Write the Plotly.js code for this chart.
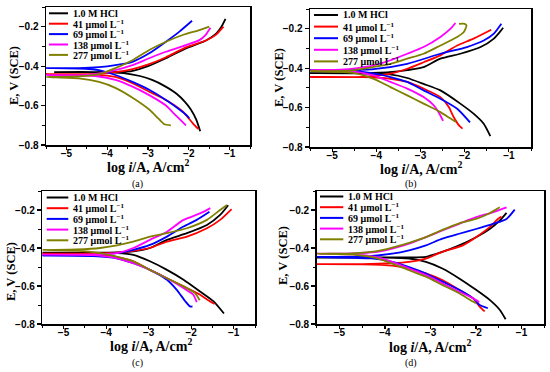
<!DOCTYPE html>
<html><head><meta charset="utf-8">
<script src="https://cdn.plot.ly/plotly-3.0.1.min.js"></script>
<style>html,body{margin:0;padding:0;background:#fff;}#chart{width:550px;height:372px;}</style>
</head><body><div id="chart"></div>
<script>
// ---------- labels ----------
const seriesNames = ['1.0 M HCl', '41 μmol L<sup>−1</sup>', '69 μmol L<sup>−1</sup>', '138 μmol L<sup>−1</sup>', '277 μmol L<sup>−1</sup>'];
const panelLabels = ['(a)', '(b)', '(c)', '(d)'];
const xTitle = 'log <i>i</i>/A, A/cm<sup>2</sup>';
const yTitle = 'E, V (SCE)';

// ---------- panel (a) ----------
const a_hcl_logi = [-1.72,-1.82,-1.95,-2.1,-2.3,-2.6,-2.9,-3.2,-3.6,-4.3,-5.3,-4.3,-3.4,-3.0,-2.56,-2.07,-1.58,-1.33,-1.2,-1.1];
const a_hcl_E    = [-0.73,-0.67,-0.62,-0.58,-0.54,-0.50,-0.47,-0.45,-0.435,-0.43,-0.43,-0.43,-0.425,-0.40,-0.36,-0.31,-0.27,-0.235,-0.20,-0.16];
const a_41_logi  = [-1.76,-1.9,-2.15,-2.56,-2.97,-3.38,-3.8,-4.3,-5.5,-4.5,-3.8,-3.38,-2.97,-2.56,-2.07,-1.58,-1.33,-1.15];
const a_41_E     = [-0.72,-0.69,-0.63,-0.572,-0.53,-0.487,-0.455,-0.443,-0.44,-0.44,-0.43,-0.415,-0.39,-0.355,-0.305,-0.27,-0.24,-0.20];
const a_69_logi  = [-1.99,-2.05,-2.23,-2.56,-2.97,-3.38,-3.8,-4.2,-4.7,-5.5,-4.7,-4.2,-3.8,-3.38,-2.97,-2.56,-2.23,-1.92];
const a_69_E     = [-0.665,-0.65,-0.62,-0.572,-0.52,-0.48,-0.445,-0.42,-0.412,-0.41,-0.41,-0.405,-0.395,-0.378,-0.335,-0.276,-0.225,-0.17];
const a_138_logi = [-2.07,-2.32,-2.56,-2.97,-3.38,-3.8,-4.3,-5.5,-4.5,-3.8,-3.38,-2.97,-2.56,-2.07,-1.74,-1.58,-1.5,-1.47];
const a_138_E    = [-0.70,-0.65,-0.60,-0.547,-0.504,-0.47,-0.45,-0.445,-0.445,-0.42,-0.395,-0.36,-0.327,-0.293,-0.268,-0.24,-0.215,-0.205];
const a_277_logi = [-2.44,-2.6,-2.75,-2.97,-3.38,-3.8,-4.2,-4.7,-5.5,-4.7,-4.2,-3.8,-3.38,-2.97,-2.56,-2.15,-1.74,-1.5];
const a_277_E    = [-0.70,-0.695,-0.665,-0.62,-0.56,-0.51,-0.48,-0.462,-0.455,-0.452,-0.44,-0.41,-0.37,-0.318,-0.276,-0.242,-0.217,-0.20];

// ---------- panel (b) ----------
const b_hcl_logi = [-1.42,-1.57,-1.8,-2.1,-2.55,-2.93,-3.3,-3.7,-4.5,-5.5,-4.5,-3.7,-3.3,-2.93,-2.55,-2.1,-1.64,-1.34,-1.2,-1.13];
const b_hcl_E    = [-0.745,-0.682,-0.631,-0.58,-0.513,-0.48,-0.45,-0.432,-0.426,-0.425,-0.425,-0.42,-0.41,-0.395,-0.352,-0.327,-0.293,-0.25,-0.215,-0.195];
const b_41_logi  = [-2.05,-2.13,-2.25,-2.36,-2.55,-2.93,-3.3,-3.68,-4.3,-5.5,-4.3,-3.68,-3.3,-2.93,-2.55,-2.17,-1.8,-1.4];
const b_41_E     = [-0.707,-0.69,-0.648,-0.597,-0.547,-0.504,-0.47,-0.454,-0.446,-0.445,-0.444,-0.428,-0.403,-0.37,-0.335,-0.285,-0.25,-0.205];
const b_69_logi  = [-1.88,-2.17,-2.55,-2.93,-3.3,-3.68,-4.1,-4.7,-5.5,-4.7,-4.06,-3.3,-2.55,-1.95,-1.57,-1.34,-1.17];
const b_69_E     = [-0.675,-0.606,-0.555,-0.513,-0.47,-0.445,-0.425,-0.413,-0.41,-0.41,-0.405,-0.378,-0.327,-0.293,-0.26,-0.225,-0.175];
const b_138_logi = [-2.49,-2.55,-2.7,-2.93,-3.3,-3.68,-4.06,-4.6,-5.5,-4.8,-4.43,-4.06,-3.68,-3.3,-2.93,-2.55,-2.32,-2.21];
const b_138_E    = [-0.668,-0.64,-0.589,-0.547,-0.504,-0.47,-0.437,-0.415,-0.41,-0.408,-0.40,-0.386,-0.36,-0.327,-0.293,-0.242,-0.20,-0.171];
const b_277_logi = [-2.2,-2.32,-2.55,-2.93,-3.3,-3.68,-4.06,-4.5,-5.5,-4.6,-4.06,-3.68,-3.3,-2.93,-2.55,-2.17,-2.02,-1.96,-2.0,-2.13];
const b_277_E    = [-0.673,-0.656,-0.623,-0.58,-0.538,-0.496,-0.454,-0.425,-0.415,-0.413,-0.394,-0.378,-0.352,-0.327,-0.285,-0.242,-0.217,-0.183,-0.175,-0.175];

// ---------- panel (c) ----------
const c_hcl_logi = [-1.23,-1.48,-1.79,-2.18,-2.57,-2.97,-3.36,-3.75,-4.5,-5.5,-4.5,-3.75,-3.36,-2.97,-2.57,-2.1,-1.63,-1.32,-1.13];
const c_hcl_E    = [-0.745,-0.68,-0.629,-0.567,-0.515,-0.47,-0.436,-0.427,-0.425,-0.425,-0.425,-0.423,-0.418,-0.40,-0.357,-0.322,-0.279,-0.226,-0.175];
const c_41_logi  = [-1.45,-1.6,-1.79,-2.18,-2.57,-2.97,-3.36,-3.9,-4.6,-5.5,-4.6,-3.75,-3.36,-2.97,-2.57,-2.1,-1.63,-1.32,-1.05];
const c_41_E     = [-0.695,-0.675,-0.646,-0.602,-0.559,-0.515,-0.47,-0.44,-0.432,-0.43,-0.43,-0.425,-0.415,-0.40,-0.366,-0.34,-0.296,-0.252,-0.195];
const c_69_logi  = [-1.97,-2.03,-2.14,-2.34,-2.57,-2.97,-3.36,-3.75,-4.3,-5.5,-4.5,-3.75,-3.36,-2.97,-2.57,-2.18,-1.87,-1.57];
const c_69_E     = [-0.708,-0.707,-0.68,-0.62,-0.567,-0.515,-0.48,-0.454,-0.443,-0.44,-0.44,-0.427,-0.41,-0.384,-0.34,-0.287,-0.252,-0.209];
const c_138_logi = [-1.87,-1.95,-2.18,-2.57,-2.97,-3.36,-3.75,-4.3,-5.5,-4.5,-3.75,-3.36,-2.97,-2.57,-2.18,-1.79,-1.55];
const c_138_E    = [-0.685,-0.646,-0.611,-0.559,-0.515,-0.48,-0.454,-0.438,-0.435,-0.435,-0.427,-0.40,-0.357,-0.314,-0.252,-0.218,-0.19];
const c_277_logi = [-1.8,-1.91,-2.18,-2.57,-2.97,-3.36,-3.75,-4.14,-4.7,-5.5,-4.7,-4.14,-3.36,-2.97,-2.57,-2.1,-1.63,-1.32,-1.16];
const c_277_E    = [-0.675,-0.637,-0.602,-0.559,-0.515,-0.47,-0.445,-0.427,-0.414,-0.41,-0.408,-0.40,-0.366,-0.34,-0.322,-0.296,-0.252,-0.20,-0.174];

// ---------- panel (d) ----------
const d_hcl_logi = [-1.35,-1.48,-1.7,-2.0,-2.37,-2.74,-3.1,-3.47,-4.0,-5.5,-4.0,-3.47,-3.1,-2.74,-2.37,-2.0,-1.7,-1.48,-1.33];
const d_hcl_E    = [-0.775,-0.725,-0.673,-0.62,-0.56,-0.508,-0.473,-0.456,-0.451,-0.45,-0.45,-0.45,-0.447,-0.42,-0.386,-0.343,-0.30,-0.256,-0.215];
const d_41_logi  = [-1.81,-1.92,-2.07,-2.37,-2.74,-3.1,-3.47,-3.84,-4.5,-5.5,-4.5,-3.84,-3.47,-3.1,-2.74,-2.29,-2.0,-1.7,-1.52,-1.44];
const d_41_E     = [-0.734,-0.708,-0.664,-0.62,-0.569,-0.534,-0.508,-0.493,-0.486,-0.485,-0.485,-0.48,-0.473,-0.456,-0.42,-0.386,-0.343,-0.29,-0.247,-0.235];
const d_69_logi  = [-1.74,-1.92,-2.07,-2.37,-2.74,-3.1,-3.47,-3.84,-4.3,-5.5,-4.5,-3.84,-3.47,-3.1,-2.74,-2.37,-2.0,-1.63,-1.33,-1.15];
const d_69_E     = [-0.717,-0.70,-0.664,-0.62,-0.577,-0.534,-0.50,-0.473,-0.455,-0.447,-0.446,-0.43,-0.412,-0.386,-0.351,-0.325,-0.30,-0.273,-0.247,-0.198];
const d_138_logi = [-1.93,-2.07,-2.37,-2.74,-3.1,-3.47,-3.84,-4.21,-4.7,-5.5,-4.7,-4.21,-3.84,-3.47,-3.1,-2.74,-2.37,-2.0,-1.63,-1.33];
const d_138_E    = [-0.685,-0.664,-0.63,-0.586,-0.543,-0.508,-0.473,-0.447,-0.434,-0.43,-0.428,-0.421,-0.403,-0.377,-0.343,-0.308,-0.273,-0.238,-0.212,-0.186];
const d_277_logi = [-2.0,-2.07,-2.37,-2.74,-3.1,-3.47,-3.84,-4.21,-4.7,-5.5,-4.7,-4.21,-3.84,-3.47,-3.1,-2.74,-2.37,-2.0,-1.7,-1.48];
const d_277_E    = [-0.69,-0.682,-0.638,-0.595,-0.551,-0.517,-0.482,-0.452,-0.435,-0.43,-0.428,-0.418,-0.398,-0.373,-0.343,-0.305,-0.27,-0.247,-0.217,-0.186];

// ---------- assembly ----------
const W = 550, H = 372;
const px = v => v / W, py = v => 1 - v / H;
const colors = ['#000000', '#ff0000', '#0000ff', '#ff00ff', '#808000'];

const panels = [
  {xs:[a_hcl_logi,a_41_logi,a_69_logi,a_138_logi,a_277_logi], ys:[a_hcl_E,a_41_E,a_69_E,a_138_E,a_277_E],
   box:[46,250,7,145], leg:{x0:49,x1:68,tx:71,y0:13.3,dy:10.4}, xt:[148,166.5], yt:[14,76], lab:[137,184]},
  {xs:[b_hcl_logi,b_41_logi,b_69_logi,b_138_logi,b_277_logi], ys:[b_hcl_E,b_41_E,b_69_E,b_138_E,b_277_E],
   box:[310,531,9,147], leg:{x0:314,x1:338,tx:341,y0:15,dy:11.6}, xt:[421,168.5], yt:[279,78], lab:[411,184]},
  {xs:[c_hcl_logi,c_41_logi,c_69_logi,c_138_logi,c_277_logi], ys:[c_hcl_E,c_41_E,c_69_E,c_138_E,c_277_E],
   box:[42.3,255,191,324], leg:{x0:46.7,x1:68.3,tx:71,y0:197.5,dy:10.7}, xt:[151,345], yt:[11,272], lab:[137,363]},
  {xs:[d_hcl_logi,d_41_logi,d_69_logi,d_138_logi,d_277_logi], ys:[d_hcl_E,d_41_E,d_69_E,d_138_E,d_277_E],
   box:[316.7,544.3,191,324], leg:{x0:320,x1:343.3,tx:346,y0:196.5,dy:10.7}, xt:[430,345.5], yt:[283,256], lab:[411,363]}
];

const traces = [], shapes = [], annotations = [];
const layout = {
  width: W, height: H, margin: {l:0, r:0, t:0, b:0},
  paper_bgcolor: '#fff', plot_bgcolor: '#fff', showlegend: false
};
const tickFont = {family: 'Liberation Sans, Arial, sans-serif', size: 10, color: '#000', weight: 'bold'};
const serif = 'Liberation Serif, Times New Roman, serif';

panels.forEach((p, i) => {
  const sfx = i === 0 ? '' : String(i + 1);
  const lblSfx = String(i + 5);
  const [l, r, t, b] = p.box;
  layout['xaxis' + sfx] = {
    domain: [px(l), px(r)], anchor: 'y' + sfx, range: [-5.5, -0.5],
    tickmode: 'linear', tick0: -5, dtick: 1, showticklabels: false,
    ticks: 'outside', ticklen: 3.5, tickwidth: 1.2, tickcolor: '#000',
    minor: {dtick: 0.5, tick0: -5, ticks: 'outside', ticklen: 2.5, tickwidth: 1, tickcolor: '#000', showgrid: false},
    showline: true, linewidth: 1.5, linecolor: '#000', mirror: true,
    showgrid: false, zeroline: false, fixedrange: true
  };
  // label-only axis sharing the same scale, placed tight under the frame
  layout['xaxis' + lblSfx] = {
    overlaying: 'x' + sfx, anchor: 'free', position: py(b + 0.5), side: 'bottom',
    domain: [px(l), px(r)], range: [-5.5, -0.5],
    tickmode: 'linear', tick0: -5, dtick: 1, ticks: '',
    showline: false, showgrid: false, zeroline: false, tickfont: tickFont, fixedrange: true
  };
  layout['yaxis' + sfx] = {
    domain: [py(b), py(t)], anchor: 'x' + sfx, range: [-0.8, -0.1],
    tickmode: 'linear', tick0: -0.8, dtick: 0.2, tickformat: '.1f',
    ticks: 'outside', ticklen: 4, tickwidth: 1.2, tickcolor: '#000',
    minor: {dtick: 0.1, tick0: -0.8, ticks: 'outside', ticklen: 2.5, tickwidth: 1, tickcolor: '#000', showgrid: false},
    showline: true, linewidth: 1.5, linecolor: '#000', mirror: true,
    showgrid: false, zeroline: false, tickfont: tickFont, fixedrange: true
  };
  p.xs.forEach((xv, s) => {
    traces.push({
      x: xv, y: p.ys[s], xaxis: 'x' + sfx, yaxis: 'y' + sfx,
      type: 'scatter', mode: 'lines', name: seriesNames[s], hoverinfo: 'skip',
      line: {color: colors[s], width: 1.8, shape: 'spline', smoothing: 0.6}
    });
    const yy = p.leg.y0 + s * p.leg.dy;
    shapes.push({type: 'line', xref: 'paper', yref: 'paper',
      x0: px(p.leg.x0), x1: px(p.leg.x1), y0: py(yy), y1: py(yy),
      line: {color: colors[s], width: 2}});
    annotations.push({xref: 'paper', yref: 'paper', x: px(p.leg.tx), y: py(yy),
      xanchor: 'left', yanchor: 'middle', showarrow: false, text: seriesNames[s],
      font: {family: serif, size: 10, color: '#000', weight: 'bold'}});
  });
  // invisible trace so the label axis is drawn
  traces.push({x: [-5.5], y: [-0.1], xaxis: 'x' + lblSfx, yaxis: 'y' + sfx, type: 'scatter', mode: 'markers',
    marker: {opacity: 0, size: 1}, hoverinfo: 'skip', showlegend: false});
  annotations.push({xref: 'paper', yref: 'paper', x: px(p.xt[0]), y: py(p.xt[1]),
    xanchor: 'center', yanchor: 'middle', showarrow: false, text: xTitle,
    font: {family: serif, size: 14, color: '#000', weight: 'bold'}});
  annotations.push({xref: 'paper', yref: 'paper', x: px(p.yt[0]), y: py(p.yt[1]),
    xanchor: 'center', yanchor: 'middle', showarrow: false, text: yTitle, textangle: -90,
    font: {family: serif, size: 12.5, color: '#000', weight: 'bold'}});
  annotations.push({xref: 'paper', yref: 'paper', x: px(p.lab[0]), y: py(p.lab[1]),
    xanchor: 'center', yanchor: 'middle', showarrow: false, text: panelLabels[i],
    font: {family: serif, size: 10, color: '#000'}});
});
layout.shapes = shapes;
layout.annotations = annotations;

Plotly.newPlot('chart', traces, layout, {displayModeBar: false, staticPlot: true});
</script>
</body></html>
